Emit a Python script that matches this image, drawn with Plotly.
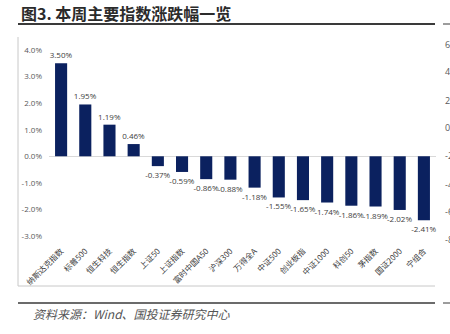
import plotly.graph_objects as go

categories = ["纳斯达克指数", "标普500", "恒生科技", "恒生指数", "上证50", "上证指数",
              "富时中国A50", "沪深300", "万得全A", "中证500", "创业板指", "中证1000",
              "科创50", "茅指数", "国证2000", "宁组合"]
values = [3.50, 1.95, 1.19, 0.46, -0.37, -0.59, -0.86, -0.88, -1.18, -1.55, -1.65,
          -1.74, -1.86, -1.89, -2.02, -2.41]
y_ticks = [-3, -2, -1, 0, 1, 2, 3, 4]
y_tick_labels = ["-3.0%", "-2.0%", "-1.0%", "0.0%", "1.0%", "2.0%", "3.0%", "4.0%"]
side_labels = ["6", "4", "2", "0", "-2", "-4", "-6", "-8"]

W, H = 450, 334
L, R, T, B = 49, 14, 50, 98
PW, PH = W - L - R, H - T - B

def px(x):
    return (x - L) / PW

def py(y):
    return (H - B - y) / PH

NUM_FONT = "Open Sans"
CJK_FONT = "Noto Sans CJK SC"

fig = go.Figure()
fig.add_trace(go.Bar(
    x=categories, y=values, width=0.5,
    marker=dict(color="#0b215f", line=dict(width=0)),
    texttemplate="%{y:.2f}%", textposition="outside", constraintext="none",
    textfont=dict(family=NUM_FONT, size=8, color="#404040"),
    cliponaxis=False, hoverinfo="skip",
))

shapes = []
line_dark = dict(color="#3a3a3a", width=2)
# title underline
shapes.append(dict(type="line", xref="paper", yref="paper", x0=px(18), x1=px(435), y0=py(24), y1=py(24), line=line_dark))
shapes.append(dict(type="line", xref="paper", yref="paper", x0=px(443), x1=px(452), y0=py(24), y1=py(24), line=dict(color="#3a3a3a", width=1)))
# bottom rule
shapes.append(dict(type="line", xref="paper", yref="paper", x0=px(18), x1=px(435), y0=py(303), y1=py(303), line=dict(color="#3a3a3a", width=1.5)))
shapes.append(dict(type="line", xref="paper", yref="paper", x0=px(443), x1=px(452), y0=py(303), y1=py(303), line=dict(color="#3a3a3a", width=1)))
# chart frame
frame = dict(color="#c8c8c8", width=1)
shapes.append(dict(type="line", xref="paper", yref="paper", x0=px(18), x1=px(18), y0=py(37), y1=py(286), line=frame))
shapes.append(dict(type="line", xref="paper", yref="paper", x0=px(18), x1=px(435), y0=py(286), y1=py(286), line=frame))

annotations = [
    dict(text="<b>图3. 本周主要指数涨跌幅一览</b>", xref="paper", yref="paper",
         x=px(19), y=py(13), xanchor="left", yanchor="middle", showarrow=False,
         font=dict(family=CJK_FONT, size=16, color="#2b2b2b")),
    dict(text="<i>资料来源：Wind、国投证券研究中心</i>", xref="paper", yref="paper",
         x=px(31), y=py(313), xanchor="left", yanchor="middle", showarrow=False,
         font=dict(family=CJK_FONT, size=12, color="#555555")),
]
side_y = [44, 71, 100, 128, 155, 184, 211, 239]
for lab, yy in zip(side_labels, side_y):
    annotations.append(dict(text=lab, xref="paper", yref="paper", x=px(443), y=py(yy),
                            xanchor="left", yanchor="middle", showarrow=False,
                            font=dict(family=NUM_FONT, size=9, color="#595959")))

fig.update_layout(
    width=W, height=H, margin=dict(l=L, r=R, t=T, b=B, pad=0),
    paper_bgcolor="white", plot_bgcolor="white", showlegend=False,
    shapes=shapes, annotations=annotations,
    xaxis=dict(tickangle=-45, tickfont=dict(family=CJK_FONT, size=8, color="#404040"),
               showgrid=False, showline=False, ticks="", ticklabelstandoff=8,
               fixedrange=True),
    yaxis=dict(range=[-3, 4], tickvals=y_ticks, ticktext=y_tick_labels,
               tickfont=dict(family=NUM_FONT, size=8, color="#595959"),
               showgrid=False, showline=False, zeroline=True, zerolinecolor="#d9d9d9",
               zerolinewidth=1, ticks="", ticklabelstandoff=6, fixedrange=True),
)

fig.write_html("out.html")
